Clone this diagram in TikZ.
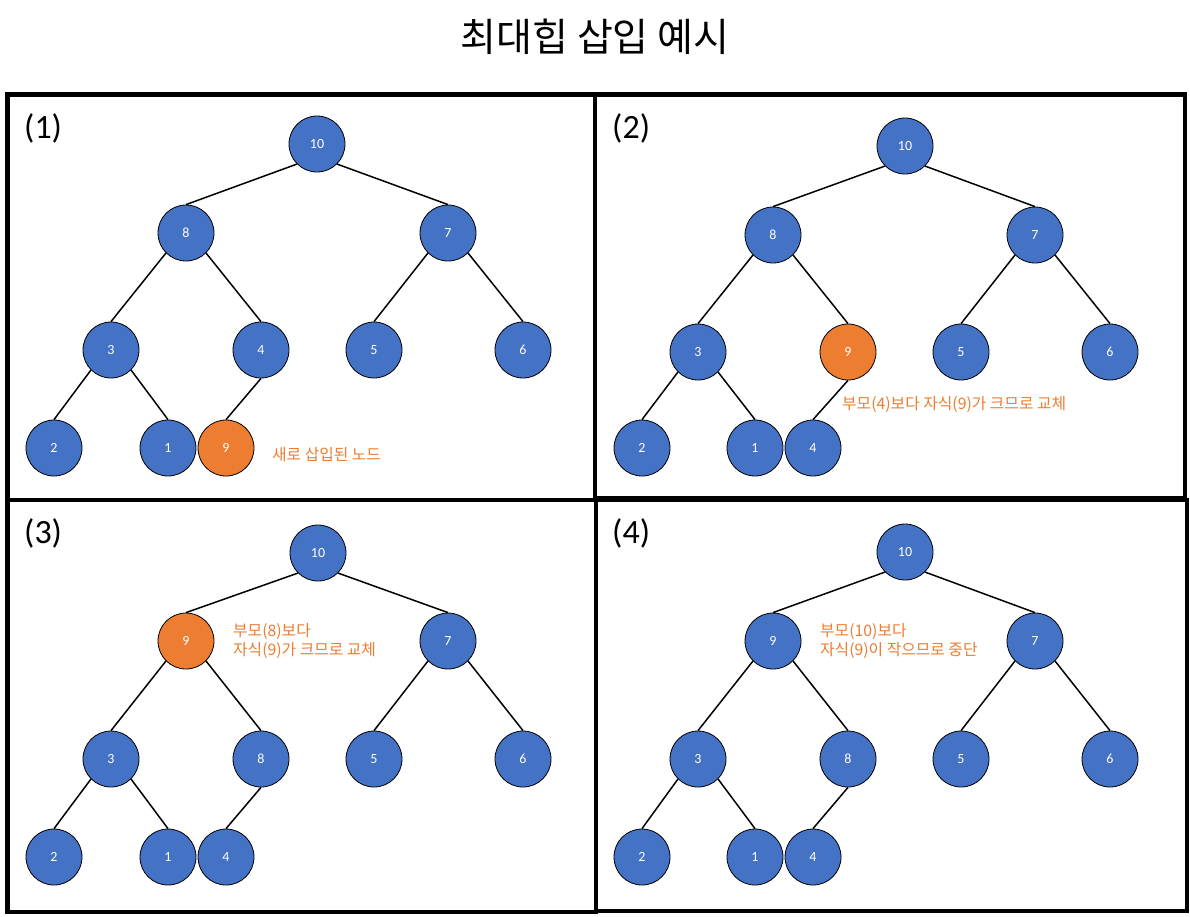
\documentclass[tikz,border=0pt]{standalone}
\usepackage{fontspec}
\setmainfont{Carlito}
\newfontfamily\kr{Noto Sans CJK KR}
\definecolor{hblue}{HTML}{4472C4}
\definecolor{horange}{HTML}{ED7D31}
\tikzset{
  hn/.style={circle,draw=black,line width=0.8pt,fill=hblue,minimum size=56pt,inner sep=0pt,text=white,font=\fontsize{14}{16}\selectfont},
  ho/.style={hn,fill=horange},
  edge/.style={line width=1.5pt,black},
  panel/.style={line width=4.5pt,black},
  note/.style={text=horange,font=\kr\fontsize{15.8}{18.5}\selectfont,anchor=west,inner sep=0pt,align=left},
  plabel/.style={font=\fontsize{34}{38}\selectfont,anchor=west,inner sep=0pt},
}
\begin{document}
\begin{tikzpicture}[x=1pt,y=-1pt]
\useasboundingbox (0,0) rectangle (1190,916);
\fill[white] (0,0) rectangle (1190,916);
\node[font=\kr\fontsize{39}{44}\selectfont,inner sep=0pt] (title) at (595,37) {최대힙 삽입 예시};
% panels
\draw[panel] (7.5,94.5) rectangle (595,500);
\draw[panel] (595,94.5) rectangle (1185,498);
\draw[panel] (7.5,500) rectangle (596,912);
\draw[panel] (596,500) rectangle (1187,911);
% panel 1
\begin{scope}
\node[plabel] (l1) at (24,128) {(1)};
\node[hn] (a0) at (317,144) {10};
\node[hn] (a1) at (186,233) {8};
\node[hn] (a2) at (448,233) {7};
\node[hn] (a3) at (111,350) {3};
\node[hn] (a4) at (261,350) {4};
\node[hn] (a5) at (374,350) {5};
\node[hn] (a6) at (523,350) {6};
\node[hn] (a7) at (54,448) {2};
\node[hn] (a8) at (168,448) {1};
\node[ho] (a9) at (226,448) {9};
\draw[edge] (a0.south west) -- (a1.north);
\draw[edge] (a0.south east) -- (a2.north);
\draw[edge] (a1.south west) -- (a3.north);
\draw[edge] (a1.south east) -- (a4.north);
\draw[edge] (a2.south west) -- (a5.north);
\draw[edge] (a2.south east) -- (a6.north);
\draw[edge] (a3.south west) -- (a7.north);
\draw[edge] (a3.south east) -- (a8.north);
\draw[edge] (a4.south) -- (a9.north);
\node[note] (n1) at (272,455) {새로 삽입된 노드};
\end{scope}
% panel 2
\begin{scope}[shift={(587,2)}]
\node[plabel] (l2) at (25,126) {(2)};
\node[hn] (b0) at (318,144) {10};
\node[hn] (b1) at (186,233) {8};
\node[hn] (b2) at (448,233) {7};
\node[hn] (b3) at (111,350) {3};
\node[ho] (b4) at (261,350) {9};
\node[hn] (b5) at (374,350) {5};
\node[hn] (b6) at (523,350) {6};
\node[hn] (b7) at (55,446) {2};
\node[hn] (b8) at (168,446) {1};
\node[hn] (b9) at (226,446) {4};
\draw[edge] (b0.south west) -- (b1.north);
\draw[edge] (b0.south east) -- (b2.north);
\draw[edge] (b1.south west) -- (b3.north);
\draw[edge] (b1.south east) -- (b4.north);
\draw[edge] (b2.south west) -- (b5.north);
\draw[edge] (b2.south east) -- (b6.north);
\draw[edge] (b3.south west) -- (b7.north);
\draw[edge] (b3.south east) -- (b8.north);
\draw[edge] (b4.south) -- (b9.north);
\node[note] (n2) at (255,403) {부모(4)보다 자식(9)가 크므로 교체};
\end{scope}
% panel 3
\begin{scope}[shift={(0,409)}]
\node[plabel] (l3) at (24,124) {(3)};
\node[hn] (c0) at (318,144) {10};
\node[ho] (c1) at (186,232) {9};
\node[hn] (c2) at (448,232) {7};
\node[hn] (c3) at (111,350) {3};
\node[hn] (c4) at (261,350) {8};
\node[hn] (c5) at (374,350) {5};
\node[hn] (c6) at (523,350) {6};
\node[hn] (c7) at (54,448) {2};
\node[hn] (c8) at (168,448) {1};
\node[hn] (c9) at (226,448) {4};
\draw[edge] (c0.south west) -- (c1.north);
\draw[edge] (c0.south east) -- (c2.north);
\draw[edge] (c1.south west) -- (c3.north);
\draw[edge] (c1.south east) -- (c4.north);
\draw[edge] (c2.south west) -- (c5.north);
\draw[edge] (c2.south east) -- (c6.north);
\draw[edge] (c3.south west) -- (c7.north);
\draw[edge] (c3.south east) -- (c8.north);
\draw[edge] (c4.south) -- (c9.north);
\node[note] (n3) at (233,232) {부모(8)보다\\자식(9)가 크므로 교체};
\end{scope}
% panel 4
\begin{scope}[shift={(587,409)}]
\node[plabel] (l4) at (25,124) {(4)};
\node[hn] (d0) at (318,143) {10};
\node[hn] (d1) at (186,232) {9};
\node[hn] (d2) at (448,232) {7};
\node[hn] (d3) at (111,350) {3};
\node[hn] (d4) at (261,350) {8};
\node[hn] (d5) at (374,350) {5};
\node[hn] (d6) at (523,350) {6};
\node[hn] (d7) at (55,448) {2};
\node[hn] (d8) at (168,448) {1};
\node[hn] (d9) at (226,448) {4};
\draw[edge] (d0.south west) -- (d1.north);
\draw[edge] (d0.south east) -- (d2.north);
\draw[edge] (d1.south west) -- (d3.north);
\draw[edge] (d1.south east) -- (d4.north);
\draw[edge] (d2.south west) -- (d5.north);
\draw[edge] (d2.south east) -- (d6.north);
\draw[edge] (d3.south west) -- (d7.north);
\draw[edge] (d3.south east) -- (d8.north);
\draw[edge] (d4.south) -- (d9.north);
\node[note] (n4) at (233,232) {부모(10)보다\\자식(9)이 작으므로 중단};
\end{scope}
\end{tikzpicture}
\end{document}
